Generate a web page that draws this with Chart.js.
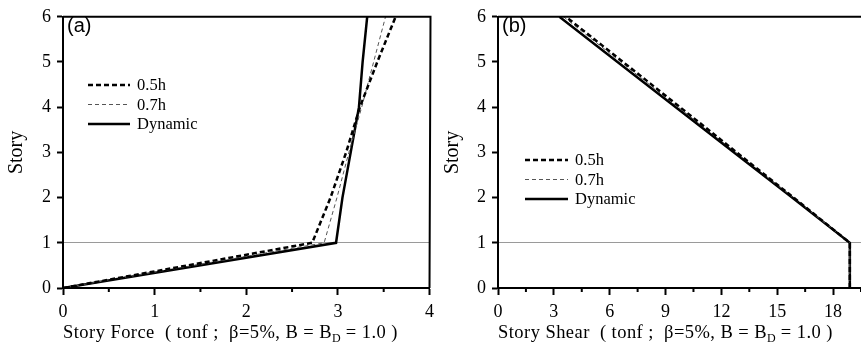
<!DOCTYPE html>
<html>
<head>
<meta charset="utf-8">
<script src="https://cdn.jsdelivr.net/npm/chart.js@4.4.1/dist/chart.umd.min.js"></script>
<style>
body { margin: 0; background: #fff; width: 861px; height: 352px; overflow: hidden; position: relative; font-family: "Liberation Serif", serif; }
canvas { position: absolute; top: 0; }
#forceChart { left: 0; }
#shearChart { left: 430px; }
.tag { position: absolute; top: 15px; font: 20px "Liberation Sans", Arial, sans-serif; line-height: 1; }
.xt { position: absolute; top: 323px; font-size: 18.5px; letter-spacing: 0.45px; line-height: 1; white-space: pre; color: #000; }
.xt sub { font-size: 12px; vertical-align: -4px; line-height: 0; letter-spacing: 0; }
</style>
</head>
<body>
<canvas id="forceChart" width="440" height="352"></canvas>
<canvas id="shearChart" width="431" height="352"></canvas>
<div class="tag" style="left:67px">(a)</div>
<div class="tag" style="left:502px">(b)</div>
<div class="xt" style="left:63px">Story Force  ( tonf ;  β=5%, B = B<sub>D</sub> = 1.0 )</div>
<div class="xt" style="left:498px">Story Shear  ( tonf ;  β=5%, B = B<sub>D</sub> = 1.0 )</div>
<script>
// story levels and tick labels
var stories = [0, 1, 2, 3, 4, 5, 6]
var forceTicks = [0, 1, 2, 3, 4]
var shearTicks = [0, 3, 6, 9, 12, 15, 18]

// (a) story force
var force05h = [0, 2.72, 2.92, 3.09, 3.24, 3.43, 3.63]
var force07h = [0, 2.85, 2.99, 3.12, 3.26, 3.39, 3.52]
var forceDyn = [0, 2.98, 3.05, 3.14, 3.23, 3.27, 3.32]

// (b) story shear
var shear05h = [18.9, 18.9, 15.88, 12.82, 9.78, 6.72, 3.65]
var shear07h = [18.9, 18.9, 15.85, 12.77, 9.68, 6.6, 3.52]
var shearDyn = [18.9, 18.9, 15.8, 12.68, 9.55, 6.42, 3.3]

Chart.defaults.font.family = '"Liberation Serif", "Times New Roman", serif'
Chart.defaults.color = '#000'

function pts(xs) {
    return stories.map((s, i) => ({ x: xs[i], y: s }))
}

function makeSets(a, b, c) {
    return [
        { label: '0.5h', data: pts(a), borderColor: '#000', borderWidth: 2.5, borderDash: [5, 3] },
        { label: '0.7h', data: pts(b), borderColor: '#555', borderWidth: 1, borderDash: [4, 3] },
        { label: 'Dynamic', data: pts(c), borderColor: '#000', borderWidth: 2.5 }
    ]
}

// legend drawn inside the plot
const inLegend = {
    id: 'inLegend',
    afterDraw(chart, args, opts) {
        const ctx = chart.ctx
        ctx.save()
        chart.data.datasets.forEach((d, i) => {
            const y = opts.y + i * opts.gap
            ctx.beginPath()
            ctx.setLineDash(d.borderDash || [])
            ctx.lineWidth = d.borderWidth
            ctx.strokeStyle = d.borderColor
            ctx.moveTo(opts.x, y)
            ctx.lineTo(opts.x + opts.len, y)
            ctx.stroke()
            ctx.setLineDash([])
            ctx.fillStyle = '#000'
            ctx.font = '16.5px "Liberation Serif"'
            ctx.textBaseline = 'middle'
            ctx.fillText(d.label, opts.x + opts.len + 7, y + 1)
        })
        ctx.restore()
    }
}

// top / right frame lines and minor x ticks
const frame = {
    id: 'frame',
    afterDraw(chart, args, opts) {
        const { ctx, chartArea: a } = chart
        const xs = chart.scales.x
        ctx.save()
        ctx.strokeStyle = '#000'
        ctx.lineWidth = 2
        ctx.beginPath()
        ctx.moveTo(a.left, a.top)
        ctx.lineTo(a.right + 1, a.top)
        if (opts.right) ctx.lineTo(a.right, a.bottom)
        ctx.stroke()
        ctx.beginPath()
        for (let v = opts.minor; v <= xs.max + 1e-9; v += opts.minor * 2) {
            const px = xs.getPixelForValue(v)
            ctx.moveTo(px, a.bottom)
            ctx.lineTo(px, a.bottom + 4)
        }
        ctx.stroke()
        ctx.restore()
    }
}

function options(xMax, xTicks, yWidth, titlePad, rightPad, legendPos, minor, rightFrame) {
    return {
        responsive: false,
        animation: false,
        layout: { padding: { top: 12, right: rightPad, left: 0, bottom: 0 } },
        elements: { point: { radius: 0 }, line: { tension: 0, fill: false } },
        plugins: {
            legend: { display: false },
            tooltip: { enabled: false },
            inLegend: legendPos,
            frame: { minor: minor, right: rightFrame }
        },
        scales: {
            x: {
                type: 'linear', min: 0, max: xMax,
                afterBuildTicks: s => { s.ticks = xTicks.map(v => ({ value: v })) },
                afterFit: s => { s.height = 64 },
                ticks: { font: { size: 18 }, padding: 6, maxRotation: 0 },
                grid: { drawOnChartArea: false, tickColor: '#000', tickLength: 7, tickWidth: 2 },
                border: { color: '#000', width: 2 }
            },
            y: {
                type: 'linear', min: 0, max: 6,
                afterBuildTicks: s => { s.ticks = stories.map(v => ({ value: v })) },
                afterFit: s => { s.width = yWidth },
                ticks: { font: { size: 18 }, padding: 6 },
                title: { display: true, text: 'Story', font: { size: 20 }, padding: { top: titlePad, bottom: 0 } },
                grid: {
                    color: c => (c.tick && c.tick.value === 1 ? '#9a9a9a' : 'rgba(0,0,0,0)'),
                    lineWidth: 1, tickColor: '#000', tickLength: 6, tickWidth: 2
                },
                border: { color: '#000', width: 2 }
            }
        }
    }
}

new Chart(document.getElementById('forceChart'), {
    type: 'line',
    data: { datasets: makeSets(force05h, force07h, forceDyn) },
    options: options(4, forceTicks, 63, 5, 10, { x: 88, y: 85, gap: 19.5, len: 42 }, 0.5, true),
    plugins: [inLegend, frame]
})

new Chart(document.getElementById('shearChart'), {
    type: 'line',
    data: { datasets: makeSets(shear05h, shear07h, shearDyn) },
    options: options(19.5, shearTicks, 68, 11, 0, { x: 95, y: 160, gap: 19.5, len: 43 }, 1.5, false),
    plugins: [inLegend, frame]
})
</script>
</body>
</html>
